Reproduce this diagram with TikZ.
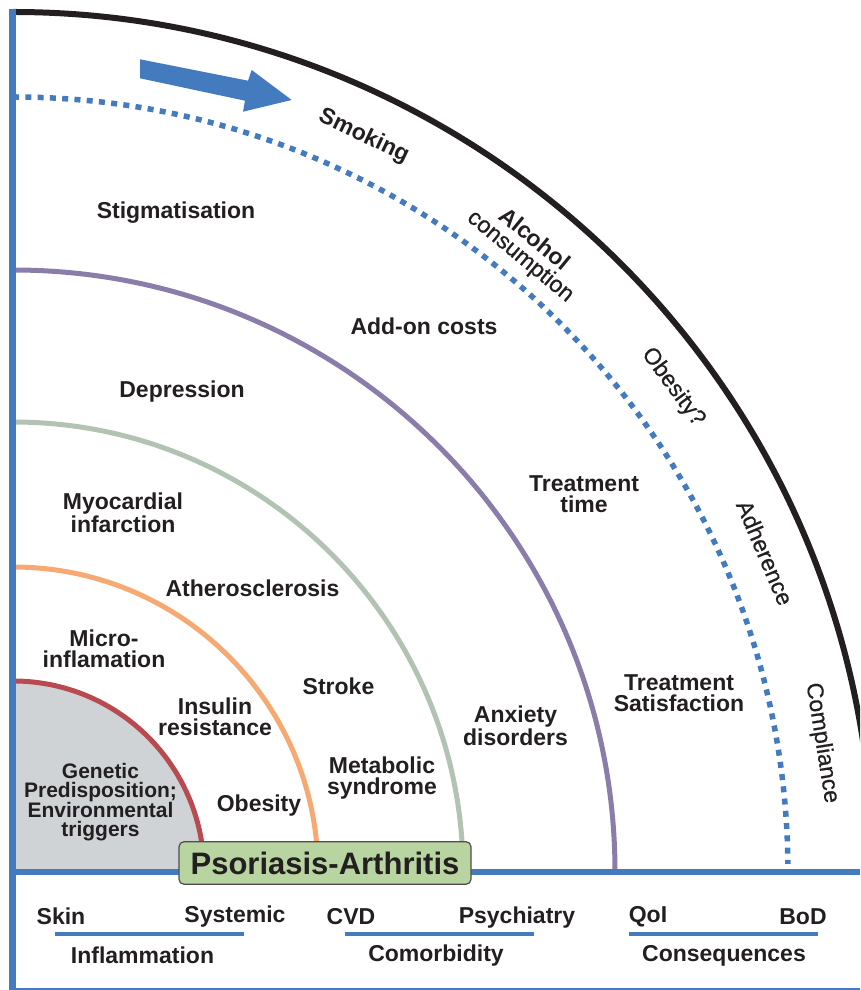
\documentclass[tikz,border=0pt]{standalone}
\usepackage{fontspec}
\setmainfont{Liberation Sans}
\newfontfamily\medfont{Liberation Sans}[BoldFont=Liberation Sans,BoldFeatures={FakeBold=0.7}]
\usetikzlibrary{positioning}
\definecolor{ink}{HTML}{231F20}
\definecolor{psablue}{HTML}{447ABE}
\definecolor{psared}{HTML}{B94A4F}
\definecolor{psaorange}{HTML}{F6A972}
\definecolor{psasage}{HTML}{B2C3B4}
\definecolor{psapurple}{HTML}{8A7DAA}
\definecolor{psagray}{HTML}{D0D3D5}
\definecolor{psagreen}{HTML}{B8D4A0}

\begin{document}
\begin{tikzpicture}[x=1pt,y=1pt,
 lbl/.style={font=\fontsize{23}{21}\selectfont\bfseries,text=ink,align=center,inner sep=0pt},
 ringlbl/.style={font=\fontsize{23}{21}\selectfont,text=ink,align=center,inner sep=0pt},
 small/.style={font=\fontsize{21}{19}\selectfont\bfseries,text=ink,align=center,inner sep=0pt},
 ring/.style={line width=5pt}]
 \useasboundingbox(-13,-118)rectangle(847,872);
 \clip(-13,-118)rectangle(847,872);
 \fill[psagray](0,0)--(191,0)arc[start angle=0,end angle=90,radius=191pt]--cycle;
 \draw[ring,psared](191,0)arc[start angle=0,end angle=90,radius=191pt];
 \draw[ring,psaorange](305,0)arc[start angle=0,end angle=90,radius=305pt];
 \draw[ring,psasage](450,0)arc[start angle=0,end angle=90,radius=450pt];
 \draw[ring,psapurple](602,0)arc[start angle=0,end angle=90,radius=602pt];
 \draw[line width=5.5pt,psablue,dash pattern=on 6pt off 6.3pt](0,775)arc[start angle=90,end angle=0.6,radius=775pt];
 \draw[line width=6pt,ink](0,860)arc[start angle=90,end angle=5,radius=860pt];
 \fill[psablue](127,812.7)--(235,791.3)--(238.7,802)--(278.7,772)--(230,760.3)--(232,771.3)--(127,793.7)--cycle;
 \draw[line width=6.5pt,psablue](0,0)--(847,0);
 \draw[line width=7pt,psablue](0,863)--(0,-118);
 \draw[line width=1.5pt,psablue](0,-117)--(847,-117);
 \node[small](genetic)at(87.5,70){Genetic\\Predisposition;\\Environmental\\triggers};
 \node[lbl](obesity)at(246,66){Obesity};
 \node[lbl](insulin)at(202,155.5){Insulin\\resistance};
 \node[lbl](micro)at(91,223.5){Micro-\\inflamation};
 \node[lbl](metabolic)at(369,93.5){Metabolic\\syndrome};
 \node[lbl](stroke)at(325.5,186){Stroke};
 \node[lbl](athero)at(239.5,284){Atherosclerosis};
 \node[lbl](myocard)at(110,359){Myocardial\\infarction};
 \node[lbl](anxiety)at(502.5,146){Anxiety\\disorders};
 \node[lbl](depress)at(169,480){Depression};
 \node[lbl](addon)at(411,546){Add-on costs};
 \node[lbl](stigma)at(163,659){Stigmatisation};
 \node[lbl](trtime)at(571,378){Treatment\\time};
 \node[lbl](trsatis)at(666,179){Treatment\\Satisfaction};
 \node[lbl,rotate=-25.5](smoking)at(64.5:815){Smoking};
 \node[ringlbl,rotate=-39.5](alcohol)at(50.5:808){{\bfseries Alcohol}\\{\medfont\bfseries consumption}};
 \node[ringlbl,rotate=-53.7](obesityq)at(36.3:819){\medfont\bfseries Obesity?};
 \node[ringlbl,rotate=-67](adherence)at(23:817){\medfont\bfseries Adherence};
 \node[ringlbl,rotate=-81](compliance)at(9.06:819){\medfont\bfseries Compliance};
 \node[draw=ink!80,line width=1.2pt,fill=psagreen,rounded corners=5pt,minimum width=292pt,minimum height=42.6pt,inner sep=0pt,
  font=\fontsize{31}{31}\selectfont\bfseries,text=ink](psa)at(312,9){Psoriasis-Arthritis};
 \node[lbl](skin)at(48,-44.7){Skin};
 \node[lbl](systemic)at(222,-44.7){Systemic};
 \node[lbl](cvd)at(338,-44.7){CVD};
 \node[lbl](psych)at(504,-45.7){Psychiatry};
 \node[lbl](qoi)at(635,-44.7){QoI};
 \node[lbl](bod)at(790,-44.7){BoD};
 \draw[line width=4pt,psablue](42,-62.3)--(231,-62.3);
 \draw[line width=4pt,psablue](332,-62.3)--(521,-62.3);
 \draw[line width=4pt,psablue](616,-62.3)--(805,-62.3);
 \node[lbl](inflam)at(129.5,-83){Inflammation};
 \node[lbl](comorb)at(423,-84){Comorbidity};
 \node[lbl](conseq)at(711,-84){Consequences};
\end{tikzpicture}
\end{document}
